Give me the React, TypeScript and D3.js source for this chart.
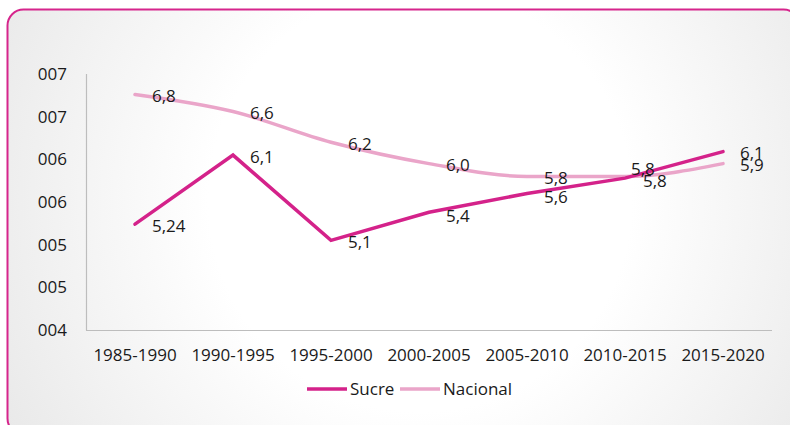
import React from "react";
import * as d3 from "d3";

const categories = ["1985-1990", "1990-1995", "1995-2000", "2000-2005", "2005-2010", "2010-2015", "2015-2020"];
const sucreValues = [5.24, 6.05, 5.05, 5.38, 5.6, 5.78, 6.09];
const nacionalValues = [6.76, 6.56, 6.2, 5.95, 5.8, 5.8, 5.95];
const sucreLabels = ["5,24", "6,1", "5,1", "5,4", "5,6", "5,8", "6,1"];
const nacionalLabels = ["6,8", "6,6", "6,2", "6,0", "5,8", "5,8", "5,9"];
const yTickValues = [4, 4.5, 5, 5.5, 6, 6.5, 7];
const yTickLabels = ["004", "005", "005", "006", "006", "007", "007"];

const W = 790;
const H = 425;
const FONT = "'Open Sans', 'Noto Sans', sans-serif";
const SUCRE = "#d4228a";
const NACIONAL = "#eaa5c9";

export default function App() {
  const x = d3.scalePoint<string>().domain(categories).range([86, 772]).padding(0.5);
  const y = d3.scaleLinear().domain([4, 7]).range([330, 74]);

  const sucreLine = d3
    .line<number>()
    .x((_, i) => x(categories[i])!)
    .y((d) => y(d));
  const nacLine = d3
    .line<number>()
    .x((_, i) => x(categories[i])!)
    .y((d) => y(d))
    .curve(d3.curveMonotoneX);

  const sucreOffsets = sucreValues.map((_, i) => (i === 5 ? { dx: 6, dy: -9 } : i === 3 || i === 4 ? { dx: 17, dy: 4 } : { dx: 17, dy: 1.5 }));
  const nacOffsets = nacionalValues.map((_, i) => (i === 5 ? { dx: 18, dy: 5 } : { dx: 17, dy: 1.5 }));

  return (
    <svg width={W} height={H} style={{ position: "absolute", left: 0, top: 0 }} fontFamily={FONT}>
      <defs>
        <radialGradient id="bg" cx="420" cy="200" r="470" gradientUnits="userSpaceOnUse">
          <stop offset="0" stopColor="#ffffff" />
          <stop offset="0.45" stopColor="#ffffff" />
          <stop offset="1" stopColor="#e9e9e9" />
        </radialGradient>
      </defs>
      <rect x={0} y={0} width={W} height={H} fill="#ffffff" />
      <rect x={7.5} y={9.5} width={792} height={425} rx={16} fill="url(#bg)" stroke="#d6258c" strokeWidth={2} />

      {/* axes */}
      <line x1={86.5} y1={74} x2={86.5} y2={330.5} stroke="#bdbdbd" strokeWidth={1.2} />
      <line x1={86} y1={330.5} x2={772} y2={330.5} stroke="#bdbdbd" strokeWidth={1.2} />

      {yTickValues.map((v, i) => (
        <text key={"yt" + i} x={67} y={y(v)} dy="0.35em" textAnchor="end" fontSize={17} fill="#1a1a1a">
          {yTickLabels[i]}
        </text>
      ))}
      {categories.map((c) => (
        <text key={c} x={x(c)} y={355} dy="0.35em" textAnchor="middle" fontSize={17} fill="#1a1a1a">
          {c}
        </text>
      ))}

      <path d={nacLine(nacionalValues)!} fill="none" stroke={NACIONAL} strokeWidth={3.5} strokeLinejoin="round" strokeLinecap="round" />
      <path d={sucreLine(sucreValues)!} fill="none" stroke={SUCRE} strokeWidth={3.5} strokeLinejoin="miter" strokeLinecap="round" />

      {nacionalValues.map((v, i) => (
        <text key={"nl" + i} x={x(categories[i])! + nacOffsets[i].dx} y={y(v) + nacOffsets[i].dy} dy="0.35em" fontSize={17} fill="#1a1a1a">
          {nacionalLabels[i]}
        </text>
      ))}
      {sucreValues.map((v, i) => (
        <text key={"sl" + i} x={x(categories[i])! + sucreOffsets[i].dx} y={y(v) + sucreOffsets[i].dy} dy="0.35em" fontSize={17} fill="#1a1a1a">
          {sucreLabels[i]}
        </text>
      ))}

      {/* legend */}
      <line x1={307} y1={389} x2={347} y2={389} stroke={SUCRE} strokeWidth={3.5} />
      <text x={350} y={389} dy="0.35em" fontSize={17} fill="#1a1a1a">Sucre</text>
      <line x1={400} y1={389} x2={440} y2={389} stroke={NACIONAL} strokeWidth={3.5} />
      <text x={443} y={389} dy="0.35em" fontSize={17} fill="#1a1a1a">Nacional</text>
    </svg>
  );
}
